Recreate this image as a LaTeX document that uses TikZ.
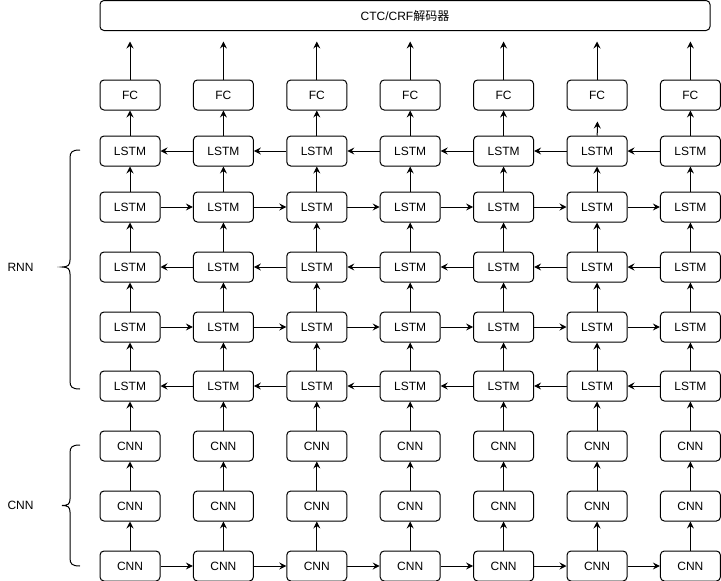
\documentclass[tikz,border=0pt]{standalone}
\usepackage{fontspec}
\setmainfont{Liberation Sans}
\newfontfamily\cjk{Noto Sans CJK SC}
\usetikzlibrary{arrows.meta}

\tikzset{
  cell/.style={draw, rounded corners=4pt, minimum width=60pt, minimum height=30pt, inner sep=0pt, font=\fontsize{12}{14}\selectfont},
  flow/.style={-{Stealth[length=7pt,width=7pt,inset=2.5pt]}},
  lbl/.style={font=\fontsize{12}{14}\selectfont},
}

\begin{document}
\begin{tikzpicture}[x=1pt, y=-1pt, line width=1pt]
        \useasboundingbox (0,0) rectangle (721,581);
        \node[cell, minimum width=610pt] (D) at (405,15.5) {CTC/CRF{\cjk 解码器}};
        % grid of cells
        \foreach \c in {1,...,7} {
            \pgfmathsetmacro\x{130+93.4*(\c-1)}
            \node[cell] (F\c) at (\x,95) {FC};
            \foreach \r/\y in {1/151,2/207,3/267,4/327,5/386}
                \node[cell] (L\r\c) at (\x,\y) {LSTM};
            \foreach \r/\y in {1/446,2/506,3/566}
                \node[cell] (C\r\c) at (\x,\y) {CNN};
            \coordinate (T\c) at (\x,41.5);
        }
        \coordinate (S6) at (597.4,121.5);
        % upward arrows
        \foreach \c in {1,...,7} {
            \draw[flow] (F\c) -- (T\c);
            \foreach \a/\b in {C3/C2,C2/C1,C1/L5,L5/L4,L4/L3,L3/L2,L2/L1}
                \draw[flow] (\a\c) -- (\b\c);
        }
        \foreach \c in {1,2,3,4,5,7}
            \draw[flow] (L1\c) -- (F\c);
        \draw[flow] (L16) -- (S6);
        % sideways arrows
        \foreach \c [evaluate=\c as \d using int(\c+1)] in {1,...,6} {
            \draw[flow] (L1\d) -- (L1\c);
            \draw[flow] (L2\c) -- (L2\d);
            \draw[flow] (L3\d) -- (L3\c);
            \draw[flow] (L4\c) -- (L4\d);
            \draw[flow] (L5\d) -- (L5\c);
            \draw[flow] (C3\c) -- (C3\d);
        }
        % braces
        \node[lbl] (RNN) at (20.5,267) {RNN};
        \node[lbl] (CNN) at (20.5,505.5) {CNN};
        \draw (80,150) .. controls (72,150) and (70,152) .. (70,158) -- (70,260)
            .. controls (70,265) and (68,267) .. (62,267)
            .. controls (68,267) and (70,269) .. (70,274) -- (70,381)
            .. controls (70,387) and (72,389) .. (80,389);
        \draw (80,445) .. controls (72,445) and (70,447) .. (70,453) -- (70,499)
            .. controls (70,504) and (68,505.5) .. (62,505.5)
            .. controls (68,505.5) and (70,507) .. (70,512) -- (70,558)
            .. controls (70,564) and (72,566) .. (80,566);
\end{tikzpicture}
\end{document}
